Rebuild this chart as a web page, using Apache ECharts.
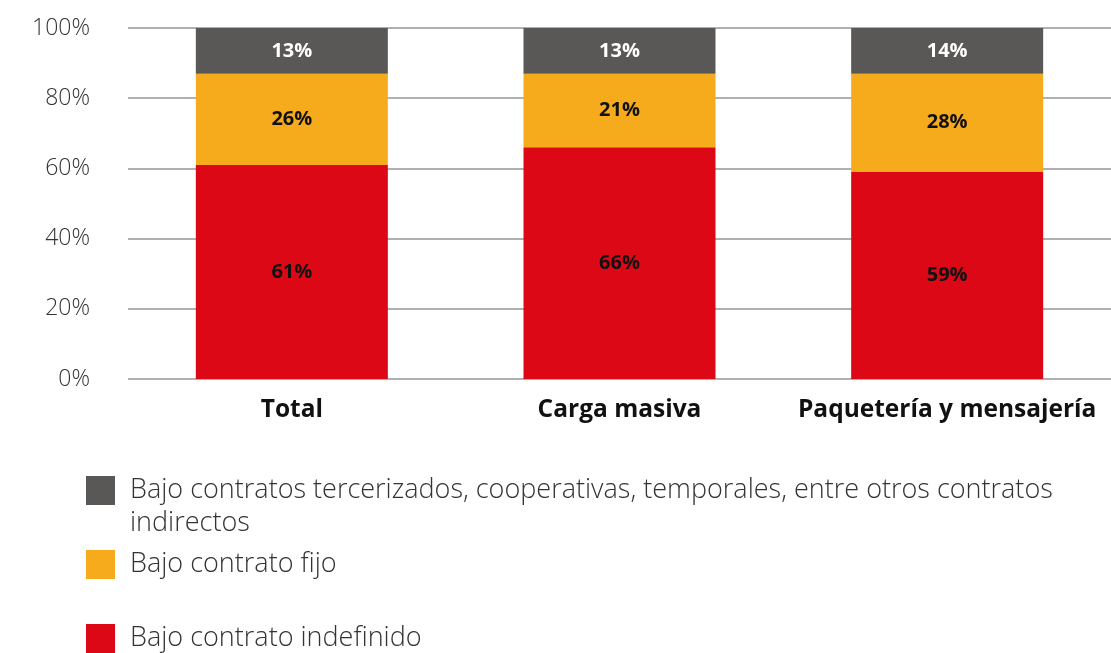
<!DOCTYPE html>
<html>
<head>
<meta charset="utf-8">
<script src="https://cdn.jsdelivr.net/npm/echarts@6/dist/echarts.min.js"></script>
<style>
  html, body { margin: 0; padding: 0; background: #fff; }
  #chart { width: 1111px; height: 653px; }
</style>
</head>
<body>
<div id="chart"></div>
<script>
const categories = ['Total', 'Carga masiva', 'Paquetería y mensajería']
const indefinido = [61, 66, 59]
const fijo = [26, 21, 28]
const indirectos = [13, 13, 14]
const yTicks = [0, 20, 40, 60, 80, 100]

const names = [
  'Bajo contrato indefinido',
  'Bajo contrato fijo',
  'Bajo contratos tercerizados, cooperativas, temporales, entre otros contratos\nindirectos'
]
const colors = ['#dc0816', '#f6ab1d', '#595856']

const chart = echarts.init(document.getElementById('chart'))

const font = 'Open Sans'

const barLabel = (color) => ({
  show: true,
  position: 'inside',
  formatter: p => p.value + '%',
  color: color,
  fontFamily: font,
  fontWeight: 'bold',
  fontSize: 20
})

const legendStyle = {
  fontFamily: font,
  fontWeight: 300,
  fontSize: 27,
  color: '#333',
  padding: [0, 0, 0, 10]
}

const legendBase = (name, top) => ({
  data: [name],
  left: 86,
  top: top,
  padding: 0,
  itemWidth: 29,
  itemHeight: 29,
  icon: 'rect',
  selectedMode: false,
  // long name wraps: the legend shows line one, the graphic below adds line two
  formatter: n => n.split('\n')[0],
  textStyle: legendStyle
})

chart.setOption({
  animation: false,
  grid: { left: 128, right: 0, top: 28, bottom: 274 },
  legend: [
    legendBase(names[2], 476),
    legendBase(names[1], 550),
    legendBase(names[0], 624)
  ],
  graphic: [{
    type: 'text',
    x: 130,
    y: 523,
    style: {
      text: names[2].split('\n')[1],
      fill: legendStyle.color,
      fontFamily: font,
      fontWeight: 300,
      fontSize: 27,
      verticalAlign: 'middle'
    }
  }],
  xAxis: {
    type: 'category',
    data: categories,
    axisLine: { show: false },
    axisTick: { show: false },
    axisLabel: {
      interval: 0,
      margin: 19,
      color: '#111',
      fontFamily: font,
      fontWeight: 'bold',
      fontSize: 24.5
    }
  },
  yAxis: {
    type: 'value',
    min: 0,
    max: 100,
    interval: 20,
    axisLine: { show: false },
    axisTick: { show: false },
    splitLine: { lineStyle: { color: '#b0b0b0', width: 2 } },
    axisLabel: {
      margin: 38,
      color: '#333',
      fontFamily: font,
      fontWeight: 300,
      fontSize: 23,
      customValues: yTicks,
      formatter: v => v + '%'
    }
  },
  series: [
    {
      name: names[0], type: 'bar', stack: 'a', data: indefinido, barWidth: 192,
      itemStyle: { color: colors[0] }, label: barLabel('#111')
    },
    {
      name: names[1], type: 'bar', stack: 'a', data: fijo, barWidth: 192,
      itemStyle: { color: colors[1] }, label: barLabel('#111')
    },
    {
      name: names[2], type: 'bar', stack: 'a', data: indirectos, barWidth: 192,
      itemStyle: { color: colors[2] }, label: barLabel('#fff')
    }
  ]
})
</script>
</body>
</html>
